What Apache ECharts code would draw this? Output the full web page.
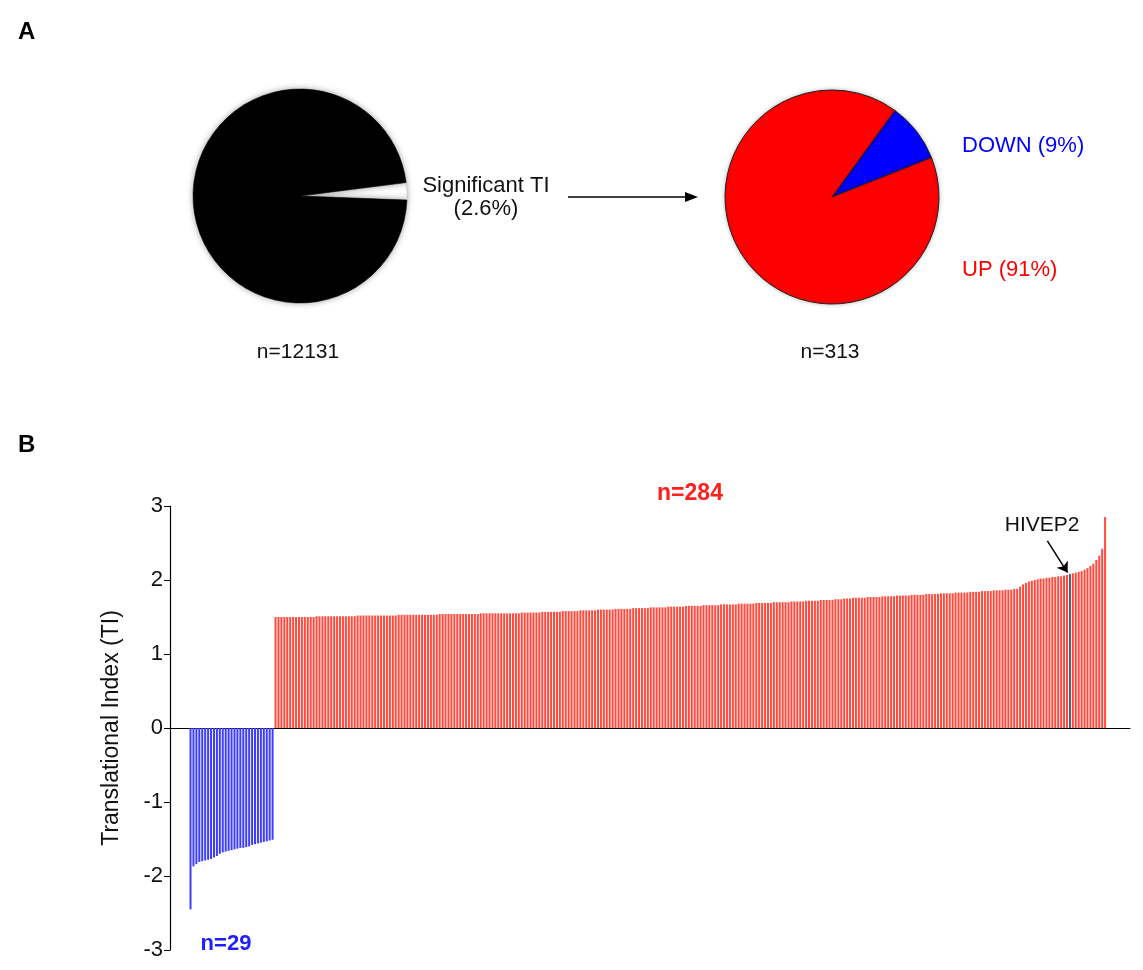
<!DOCTYPE html>
<html>
<head>
<meta charset="utf-8">
<script src="https://cdn.jsdelivr.net/npm/echarts@6/dist/echarts.min.js"></script>
<style>
html,body{margin:0;padding:0;background:#fff;}
#chart{width:1143px;height:970px;}
</style>
</head>
<body>
<div id="chart"></div>
<script>
// ---- Panel A data ----
const allGenesLabels = ['Significant TI', 'Not significant'];
const allGenesValues = [2.6, 97.4];
const allGenesN = 'n=12131';
const sigLabels = ['DOWN (9%)', 'UP (91%)'];
const sigValues = [9, 91];
const sigN = 'n=313';

// ---- Panel B data ----
const downValues = [-2.45,-1.87,-1.84,-1.81,-1.80,-1.79,-1.78,-1.77,-1.75,-1.73,-1.70,-1.68,-1.67,-1.66,-1.65,
  -1.64,-1.63,-1.62,-1.62,-1.61,-1.60,-1.58,-1.57,-1.56,-1.55,-1.54,-1.53,-1.52,-1.51];
const upValues = [
  1.50,1.50,1.50,1.50,1.50,1.50,1.50,1.50,1.50,1.50,1.50,1.50,1.50,1.50,
  1.51,1.51,1.51,1.51,1.51,1.51,1.51,1.51,1.51,1.51,1.51,1.51,1.51,1.51,
  1.52,1.52,1.52,1.52,1.52,1.52,1.52,1.52,1.52,1.52,1.52,1.52,1.52,1.52,
  1.53,1.53,1.53,1.53,1.53,1.53,1.53,1.53,1.53,1.53,1.53,1.53,1.53,1.53,
  1.54,1.54,1.54,1.54,1.54,1.54,1.54,1.54,1.54,1.54,1.54,1.54,1.54,1.54,
  1.55,1.55,1.55,1.55,1.55,1.55,1.55,1.55,1.55,1.55,1.55,1.55,1.55,1.55,
  1.56,1.56,1.56,1.56,1.56,1.56,1.56,1.57,1.57,1.57,1.57,1.57,1.57,1.57,
  1.58,1.58,1.58,1.58,1.58,1.58,1.59,1.59,1.59,1.59,1.59,1.59,1.60,1.60,
  1.60,1.60,1.60,1.60,1.61,1.61,1.61,1.61,1.61,1.61,1.62,1.62,1.62,1.62,
  1.62,1.62,1.63,1.63,1.63,1.63,1.63,1.63,1.64,1.64,1.64,1.64,1.64,1.64,
  1.65,1.65,1.65,1.65,1.65,1.65,1.66,1.66,1.66,1.66,1.66,1.66,1.67,1.67,
  1.67,1.67,1.67,1.67,1.68,1.68,1.68,1.68,1.68,1.68,1.69,1.69,1.69,1.69,
  1.69,1.69,1.70,1.70,1.70,1.70,1.70,1.70,1.71,1.71,1.71,1.71,1.71,1.72,
  1.72,1.72,1.72,1.72,1.73,1.73,1.73,1.73,1.73,1.74,1.74,1.74,1.75,1.75,
  1.75,1.76,1.76,1.76,1.76,1.76,1.77,1.77,1.77,1.77,1.77,1.78,1.78,1.78,
  1.78,1.78,1.79,1.79,1.79,1.79,1.79,1.80,1.80,1.80,1.80,1.80,1.81,1.81,
  1.81,1.81,1.81,1.82,1.82,1.82,1.82,1.82,1.83,1.83,1.83,1.83,1.83,1.84,
  1.84,1.84,1.84,1.85,1.85,1.85,1.85,1.86,1.86,1.86,1.86,1.87,1.87,1.87,
  1.88,1.88,1.91,1.94,1.96,1.98,1.99,2.00,2.01,2.02,2.02,2.03,2.03,2.04,
  2.04,2.05,2.05,2.06,2.07,2.08,2.09,2.10,2.11,2.12,2.14,2.16,2.19,2.22,
  2.27,2.33,2.42,2.85
];
const highlightUpIndex = 271;
const highlightName = 'HIVEP2';
const yTicks = [-3, -2, -1, 0, 1, 2, 3];
const downCountLabel = 'n=29';
const upCountLabel = 'n=284';

const FONT = '"Liberation Sans", Arial, Helvetica, sans-serif';
const BLUE = '#3d3dff';
const RED = '#ff4a3d';

const barData = [];
downValues.forEach((v, i) => barData.push({ value: [i, v], itemStyle: { color: BLUE } }));
upValues.forEach((v, i) => barData.push({
  value: [downValues.length + i, v],
  itemStyle: { color: i === highlightUpIndex ? '#4a5a66' : RED }
}));
const hx = downValues.length + highlightUpIndex;
const hv = upValues[highlightUpIndex];

const chart = echarts.init(document.getElementById('chart'), null, { renderer: 'canvas' });

const option = {
  backgroundColor: '#ffffff',
  animation: false,
  textStyle: { fontFamily: FONT },
  grid: { left: 170, right: 13, top: 506, bottom: 20 },
  xAxis: {
    type: 'value', min: -7, max: 320.5,
    axisLine: { onZero: true, lineStyle: { color: '#000', width: 1.2 } },
    axisTick: { show: false }, axisLabel: { show: false }, splitLine: { show: false }
  },
  yAxis: {
    type: 'value', min: yTicks[0], max: yTicks[yTicks.length - 1], interval: 1,
    name: 'Translational Index (TI)', nameLocation: 'middle', nameGap: 47, nameRotate: 90,
    nameTextStyle: { fontSize: 23, color: '#111', fontFamily: FONT },
    axisLine: { show: true, onZero: false, lineStyle: { color: '#000', width: 1.2 } },
    axisTick: { show: true, length: 6, lineStyle: { color: '#000' } },
    axisLabel: { fontSize: 22, color: '#111', margin: 7, fontFamily: FONT },
    splitLine: { show: false }
  },
  series: [
    {
      type: 'pie', center: [300, 196], radius: 107,
      startAngle: 7.2, clockwise: true, silent: true,
      label: { show: false }, labelLine: { show: false },
      itemStyle: { shadowBlur: 6, shadowColor: 'rgba(0,0,0,0.35)' },
      data: allGenesLabels.map((n, i) => ({
        name: n, value: allGenesValues[i],
        itemStyle: { color: i === 0 ? '#ffffff' : '#000000', borderColor: i === 0 ? '#ccc' : '#000', borderWidth: 0.5 }
      }))
    },
    {
      type: 'pie', center: [832, 197], radius: 107,
      startAngle: 54, clockwise: true, silent: true,
      label: { show: false }, labelLine: { show: false },
      itemStyle: { borderColor: '#222', borderWidth: 1, shadowBlur: 4, shadowColor: 'rgba(0,0,0,0.25)' },
      data: sigLabels.map((n, i) => ({
        name: n, value: sigValues[i],
        itemStyle: { color: i === 0 ? '#0000ff' : '#ff0000' }
      }))
    },
    {
      type: 'bar', barWidth: 2, data: barData, silent: true,
      markLine: {
        silent: true, symbol: ['none', 'arrow'], symbolSize: 10,
        lineStyle: { color: '#000', width: 1.5, type: 'solid' },
        label: { show: false },
        data: [[{ coord: [292.3, 2.53] }, { coord: [hx - 0.8, hv + 0.02] }]]
      },
      markPoint: {
        silent: true, symbol: 'circle', symbolSize: 0,
        label: { show: true, position: 'inside', formatter: highlightName, fontSize: 21, color: '#111', fontFamily: FONT },
        data: [{ coord: [290.5, 2.74] }]
      }
    }
  ],
  graphic: [
    { type: 'text', left: 18, top: 20, style: { text: 'A', font: 'bold 24px ' + FONT, fill: '#000' } },
    { type: 'text', left: 18, top: 433, style: { text: 'B', font: 'bold 24px ' + FONT, fill: '#000' } },
    { type: 'text', x: 486, y: 186, style: { text: 'Significant TI', font: '22px ' + FONT, fill: '#111', align: 'center', verticalAlign: 'middle' } },
    { type: 'text', x: 486, y: 209, style: { text: '(2.6%)', font: '22px ' + FONT, fill: '#111', align: 'center', verticalAlign: 'middle' } },
    { type: 'line', shape: { x1: 568, y1: 197, x2: 690, y2: 197 }, style: { stroke: '#000', lineWidth: 1.5 } },
    { type: 'polygon', shape: { points: [[698, 197], [685, 192], [685, 202]] }, style: { fill: '#000' } },
    { type: 'text', x: 962, y: 146, style: { text: sigLabels[0], font: '22px ' + FONT, fill: '#0000ff', verticalAlign: 'middle' } },
    { type: 'text', x: 962, y: 270, style: { text: sigLabels[1], font: '22px ' + FONT, fill: '#ff0000', verticalAlign: 'middle' } },
    { type: 'text', x: 298, y: 352, style: { text: allGenesN, font: '21px ' + FONT, fill: '#111', align: 'center', verticalAlign: 'middle' } },
    { type: 'text', x: 830, y: 352, style: { text: sigN, font: '21px ' + FONT, fill: '#111', align: 'center', verticalAlign: 'middle' } },
    { type: 'text', x: 690, y: 494, style: { text: upCountLabel, font: 'bold 23px ' + FONT, fill: '#ff2020', align: 'center', verticalAlign: 'middle' } },
    { type: 'text', x: 226, y: 944, style: { text: downCountLabel, font: 'bold 22px ' + FONT, fill: '#2020ff', align: 'center', verticalAlign: 'middle' } }
  ]
};
chart.setOption(option);
</script>
</body>
</html>
